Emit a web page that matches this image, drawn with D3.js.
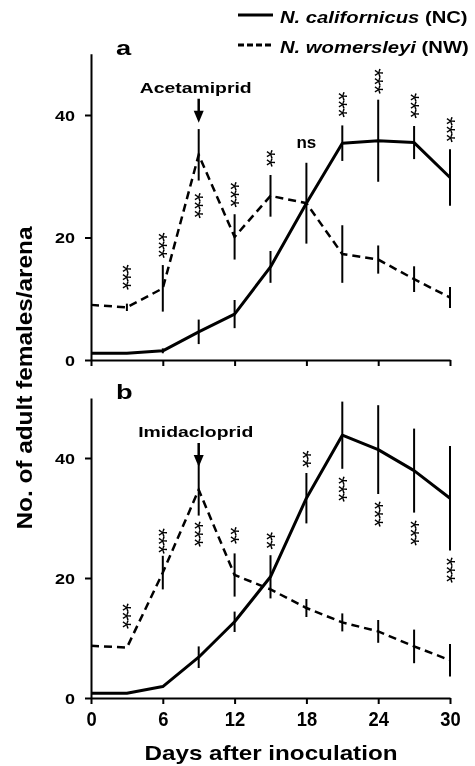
<!DOCTYPE html>
<html>
<head>
<meta charset="UTF-8">
<title>Predatory mites</title>
<script src="https://cdn.jsdelivr.net/npm/d3@7"></script>
<style>
  body { margin: 0; background: #fff; }
  /* grayscale keeps the rotated asterisks free of colour fringes */
  svg { display: block; font-family: "Liberation Sans", Arial, sans-serif; filter: grayscale(100%); }
</style>
</head>
<body>
<div class="canvas"></div>
<script>
  // data
  const days = [0, 3, 6, 9, 12, 15, 18, 21, 24, 27, 30];
  const xTicks = [0, 6, 12, 18, 24, 30];
  const yTicks = [0, 20, 40];

  // panel a - acetamiprid
  const ncA = [1.1, 1.1, 1.5, 4.6, 7.5, 15.2, 25.6, 35.4, 35.8, 35.5, 29.8];
  const ncAErr = [0, 0, 0.4, 2.0, 2.3, 2.6, 6.6, 2.9, 6.7, 2.7, 4.6];
  const nwA = [9.0, 8.6, 11.7, 33.5, 20.1, 26.8, 25.6, 17.3, 16.4, 13.2, 10.2];
  const nwAErr = [0, 0.6, 3.8, 4.2, 3.7, 3.4, 0, 4.7, 2.3, 2.1, 1.7];
  const sigA = ['', '***', '***', '***', '***', '**', 'ns', '***', '***', '***', '***'];
  const sigAPos = [0, 13.6, 18.8, 25.3, 27.1, 33.0, 35.4, 41.8, 45.6, 41.6, 37.7];

  // panel b - imidacloprid
  const ncB = [0.8, 0.8, 1.9, 6.8, 12.7, 20.2, 33.3, 43.8, 41.4, 37.9, 33.3];
  const ncBErr = [0, 0, 0, 1.8, 1.7, 3.6, 4.2, 5.6, 7.4, 7.0, 8.7];
  const nwB = [8.7, 8.4, 20.9, 34.7, 20.5, 18.1, 15.0, 12.6, 11.1, 8.6, 6.3];
  const nwBErr = [0, 0, 2.8, 4.3, 3.6, 0, 1.5, 1.5, 1.9, 2.8, 2.7];
  const sigB = ['', '***', '***', '***', '**', '**', '**', '***', '***', '***', '***'];
  const sigBPos = [0, 13.75, 26.25, 27.4, 27.2, 26.3, 39.9, 34.9, 30.75, 27.6, 21.4];

  const sprayDay = 9;

  const width = 475;
  const height = 766;

  const svg = d3.select('.canvas')
    .append('svg')
    .attr('width', width)
    .attr('height', height);

  const x = d3.scaleLinear()
    .domain([0, 30])
    .range([91, 450]);

  // the original lettering is wider than Arial, so stretch it sideways
  function wideText(str, px, py, size, sx) {
    return svg.append('text')
      .attr('transform', `translate(${px},${py}) scale(${sx},1)`)
      .attr('font-size', size)
      .attr('font-weight', 'bold')
      .text(str);
  }

  const panels = [
    { label: 'a', drug: 'Acetamiprid', range: [360, 53.75], nc: ncA, ncErr: ncAErr, nw: nwA, nwErr: nwAErr, sig: sigA, sigPos: sigAPos, labels: false },
    { label: 'b', drug: 'Imidacloprid', range: [698, 398], nc: ncB, ncErr: ncBErr, nw: nwB, nwErr: nwBErr, sig: sigB, sigPos: sigBPos, labels: true }
  ];

  panels.forEach(p => {
    const y = d3.scaleLinear().domain([0, 50]).range(p.range);
    const g = svg.append('g');

    // y axis
    const yAxisG = g.append('g')
      .attr('transform', `translate(${x(0)},0)`)
      .attr('font-family', null)
      .call(d3.axisLeft(y).tickValues(yTicks).tickSize(6).tickSizeOuter(0));
    yAxisG.select('.domain').attr('stroke-width', 2);
    yAxisG.selectAll('.tick line').attr('stroke-width', 2);
    yAxisG.selectAll('.tick text')
      .attr('font-size', 15)
      .attr('font-weight', 'bold')
      .attr('transform', 'scale(1.2,1)')
      .attr('x', -16 / 1.2)
      .attr('dy', '0.36em');

    // x axis
    const xAxis = d3.axisBottom(x).tickValues(xTicks).tickSize(6).tickSizeOuter(0);
    if (!p.labels) xAxis.tickFormat('');
    const xAxisG = g.append('g')
      .attr('transform', `translate(0,${y(0)})`)
      .attr('font-family', null)
      .call(xAxis);
    xAxisG.select('.domain').attr('stroke-width', 2);
    xAxisG.selectAll('.tick line').attr('stroke-width', 2);
    xAxisG.selectAll('.tick text')
      .attr('font-size', 20)
      .attr('font-weight', 'bold')
      .attr('transform', 'scale(0.92,1)')
      .attr('y', 14)
      .attr('dy', '0.71em');

    const line = d3.line()
      .x((d, i) => x(days[i]))
      .y(d => y(d));

    // error bars
    [[p.nc, p.ncErr], [p.nw, p.nwErr]].forEach(([vals, errs]) => {
      g.selectAll(null)
        .data(days.map((d, i) => ({ d, v: vals[i], e: errs[i] })).filter(r => r.e > 0))
        .enter()
        .append('line')
        .attr('x1', r => x(r.d))
        .attr('x2', r => x(r.d))
        .attr('y1', r => y(r.v - r.e))
        .attr('y2', r => y(r.v + r.e))
        .attr('stroke', '#000')
        .attr('stroke-width', 2);
    });

    g.append('path')
      .datum(p.nw)
      .attr('d', line)
      .attr('fill', 'none')
      .attr('stroke', '#000')
      .attr('stroke-width', 2.5)
      .attr('stroke-dasharray', '8,5');

    g.append('path')
      .datum(p.nc)
      .attr('d', line)
      .attr('fill', 'none')
      .attr('stroke', '#000')
      .attr('stroke-width', 3)
      .attr('stroke-linejoin', 'round');

    // significance marks: the asterisks run down the page as a column
    p.sig.forEach((s, i) => {
      if (!s) return;
      const cx = x(days[i]);
      const cy = y(p.sigPos[i]);
      if (s === 'ns') {
        g.append('text')
          .attr('x', cx)
          .attr('y', cy + 5)
          .attr('text-anchor', 'middle')
          .attr('font-size', 17)
          .attr('font-weight', 'bold')
          .text('ns');
        return;
      }
      g.append('text')
        .attr('transform', `translate(${cx - 12.5},${cy}) rotate(90)`)
        .attr('text-anchor', 'middle')
        .attr('font-size', 24)
        .attr('letter-spacing', -1)
        .text(s);
    });

    // spray arrow + label
    const ax = x(sprayDay);
    const tip = y(50) + 69;
    g.append('line')
      .attr('x1', ax).attr('x2', ax)
      .attr('y1', tip - 24).attr('y2', tip - 11)
      .attr('stroke', '#000')
      .attr('stroke-width', 2.5);
    g.append('path')
      .attr('d', `M${ax - 5},${tip - 12}L${ax + 5},${tip - 12}L${ax},${tip}Z`)
      .attr('fill', '#000');
    wideText(p.drug, ax - 3, tip - 30, 15.5, 1.25).attr('text-anchor', 'middle');

    wideText(p.label, 116, y(50) + 1, 21, 1.3);
  });

  // legend
  const legend = [
    { name: 'N. californicus', code: ' (NC)', dash: null, y: 15 },
    { name: 'N. womersleyi', code: ' (NW)', dash: '6,3', y: 45 }
  ];
  legend.forEach(l => {
    svg.append('line')
      .attr('x1', 238).attr('x2', 273)
      .attr('y1', l.y).attr('y2', l.y)
      .attr('stroke', '#000')
      .attr('stroke-width', 3)
      .attr('stroke-dasharray', l.dash);
    const t = wideText('', 280, l.y + 8, 17, 1.19);
    t.append('tspan').attr('font-style', 'italic').text(l.name);
    t.append('tspan').text(l.code);
  });

  // axis titles
  svg.append('text')
    .attr('x', 271)
    .attr('y', 760)
    .attr('text-anchor', 'middle')
    .attr('font-size', 21)
    .attr('font-weight', 'bold')
    .attr('textLength', 253)
    .attr('lengthAdjust', 'spacingAndGlyphs')
    .text('Days after inoculation');

  svg.append('text')
    .attr('transform', 'translate(32,378) rotate(-90)')
    .attr('text-anchor', 'middle')
    .attr('font-size', 22)
    .attr('font-weight', 'bold')
    .attr('textLength', 303)
    .attr('lengthAdjust', 'spacingAndGlyphs')
    .text('No. of adult females/arena');
</script>
</body>
</html>
